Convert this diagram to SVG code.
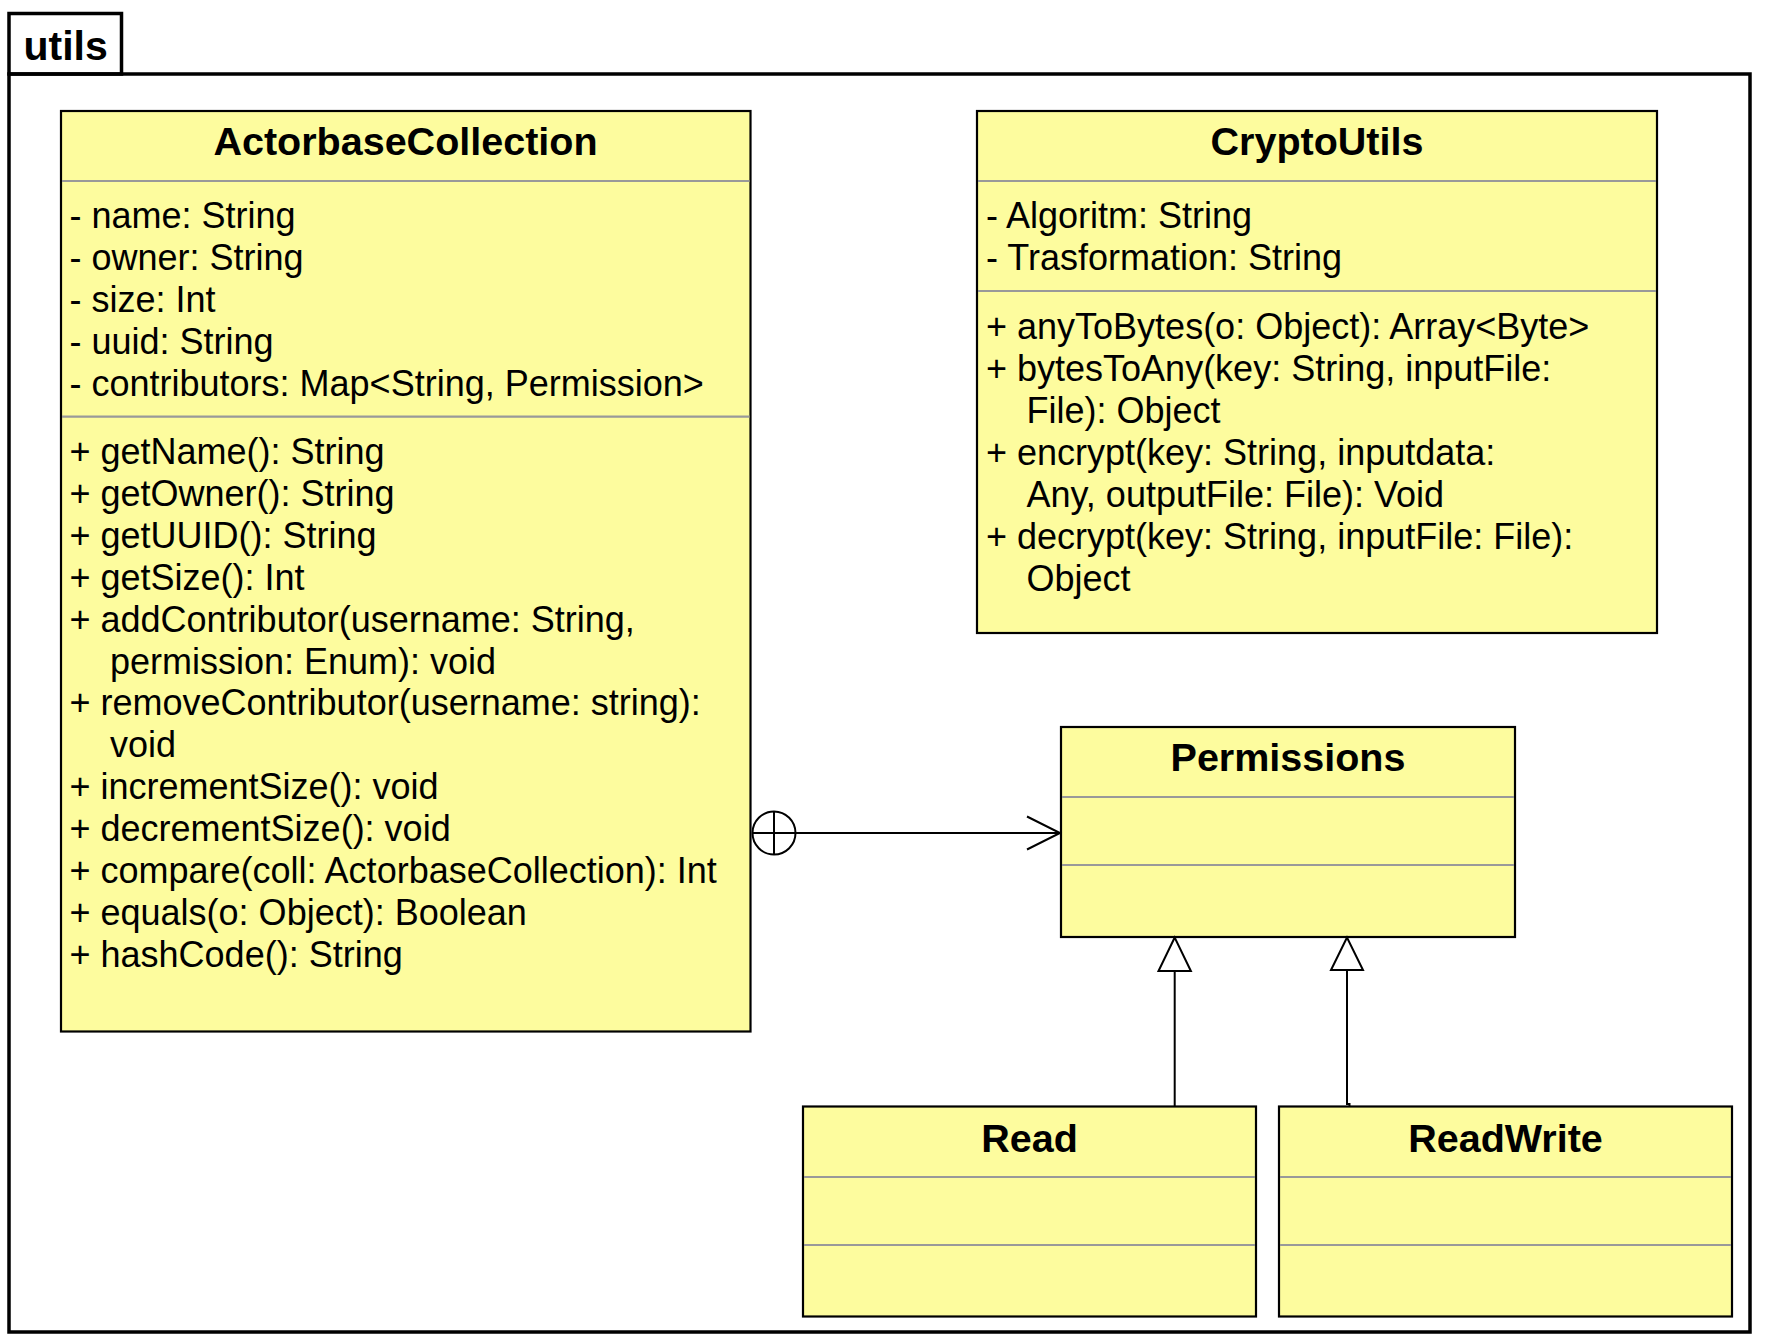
<svg xmlns="http://www.w3.org/2000/svg" width="1766" height="1344" viewBox="0 0 1766 1344">
<style>
.frame{fill:none;stroke:#000;stroke-width:3.5}
.box{fill:#fdfc9e;stroke:#000;stroke-width:2.2}
.sep{stroke:#999;stroke-width:2.2}
.title{font-family:"Liberation Sans",Arial,Helvetica,sans-serif;font-weight:bold;font-size:39.5px;fill:#000;text-anchor:middle}
.pkg{font-family:"Liberation Sans",Arial,Helvetica,sans-serif;font-weight:bold;font-size:41px;fill:#000}
.t{font-family:"Liberation Sans",Arial,Helvetica,sans-serif;font-size:36px;fill:#000}
.ln{fill:none;stroke:#000;stroke-width:2}
.tri{fill:#fff;stroke:#000;stroke-width:2}
</style>
<rect width="1766" height="1344" fill="#fff"/>
<g id="pkg-utils">
<rect class="frame" x="9" y="13.5" width="112.5" height="60.5" fill="#fff"/>
<rect class="frame" x="9" y="74" width="1741" height="1258"/>
<text class="pkg" x="23.5" y="59.5">utils</text>
</g>
<g id="ActorbaseCollection">
<rect class="box" x="61" y="111" width="689.5" height="920.5"/>
<text class="title" x="405.5" y="155">ActorbaseCollection</text>
<line class="sep" x1="62" y1="181" x2="749.5" y2="181"/>
<text class="t" x="69.5" y="228">- name: String</text>
<text class="t" x="69.5" y="269.9">- owner: String</text>
<text class="t" x="69.5" y="311.8">- size: Int</text>
<text class="t" x="69.5" y="353.7">- uuid: String</text>
<text class="t" x="69.5" y="395.6">- contributors: Map&lt;String, Permission&gt;</text>
<line class="sep" x1="62" y1="416.7" x2="749.5" y2="416.7"/>
<text class="t" x="69.5" y="464.3">+ getName(): String</text>
<text class="t" x="69.5" y="506.2">+ getOwner(): String</text>
<text class="t" x="69.5" y="548">+ getUUID(): String</text>
<text class="t" x="69.5" y="589.9">+ getSize(): Int</text>
<text class="t" x="69.5" y="631.7">+ addContributor(username: String,</text>
<text class="t" x="110" y="673.6">permission: Enum): void</text>
<text class="t" x="69.5" y="715.4">+ removeContributor(username: string):</text>
<text class="t" x="110" y="757.3">void</text>
<text class="t" x="69.5" y="799.1">+ incrementSize(): void</text>
<text class="t" x="69.5" y="841">+ decrementSize(): void</text>
<text class="t" x="69.5" y="882.8">+ compare(coll: ActorbaseCollection): Int</text>
<text class="t" x="69.5" y="924.7">+ equals(o: Object): Boolean</text>
<text class="t" x="69.5" y="966.5">+ hashCode(): String</text>
</g>
<g id="CryptoUtils">
<rect class="box" x="977" y="111" width="680" height="522"/>
<text class="title" x="1317" y="155">CryptoUtils</text>
<line class="sep" x1="978" y1="181" x2="1656" y2="181"/>
<text class="t" x="986" y="228">- Algoritm: String</text>
<text class="t" x="986" y="270">- Trasformation: String</text>
<line class="sep" x1="978" y1="291" x2="1656" y2="291"/>
<text class="t" x="986" y="338.6">+ anyToBytes(o: Object): Array&lt;Byte&gt;</text>
<text class="t" x="986" y="380.6">+ bytesToAny(key: String, inputFile:</text>
<text class="t" x="1026.5" y="422.6">File): Object</text>
<text class="t" x="986" y="464.6">+ encrypt(key: String, inputdata:</text>
<text class="t" x="1026.5" y="506.6">Any, outputFile: File): Void</text>
<text class="t" x="986" y="548.6">+ decrypt(key: String, inputFile: File):</text>
<text class="t" x="1026.5" y="590.6">Object</text>
</g>
<g id="Permissions">
<rect class="box" x="1061" y="727" width="454" height="210"/>
<text class="title" x="1288" y="771">Permissions</text>
<line class="sep" x1="1062" y1="797" x2="1514" y2="797"/>
<line class="sep" x1="1062" y1="865" x2="1514" y2="865"/>
</g>
<g id="Read">
<rect class="box" x="803" y="1106.5" width="453" height="210"/>
<text class="title" x="1029.5" y="1151.5">Read</text>
<line class="sep" x1="804" y1="1177" x2="1255" y2="1177"/>
<line class="sep" x1="804" y1="1245" x2="1255" y2="1245"/>
</g>
<g id="ReadWrite">
<rect class="box" x="1279" y="1106.5" width="453" height="210"/>
<text class="title" x="1505.5" y="1151.5">ReadWrite</text>
<line class="sep" x1="1280" y1="1177" x2="1731" y2="1177"/>
<line class="sep" x1="1280" y1="1245" x2="1731" y2="1245"/>
</g>
<g id="connectors">
<g id="assoc-ActorbaseCollection-Permissions">
<line class="ln" x1="752" y1="833" x2="1060" y2="833"/>
<circle class="ln" cx="774" cy="833" r="21.5"/>
<line class="ln" x1="774" y1="811.5" x2="774" y2="854.5"/>
<polyline class="ln" points="1027,816.5 1060,833 1027,849.5"/>
</g>
<g id="gen-Read-Permissions">
<line class="ln" x1="1174.7" y1="1106.5" x2="1174.7" y2="971"/>
<polygon class="tri" points="1174.7,937.5 1158.5,971 1190.9,971"/>
</g>
<g id="gen-ReadWrite-Permissions">
<path class="ln" d="M1349.5 1106.5 V1104 H1347 V970"/>
<polygon class="tri" points="1347,937.5 1331,970 1363,970"/>
</g>
</g>
</svg>
